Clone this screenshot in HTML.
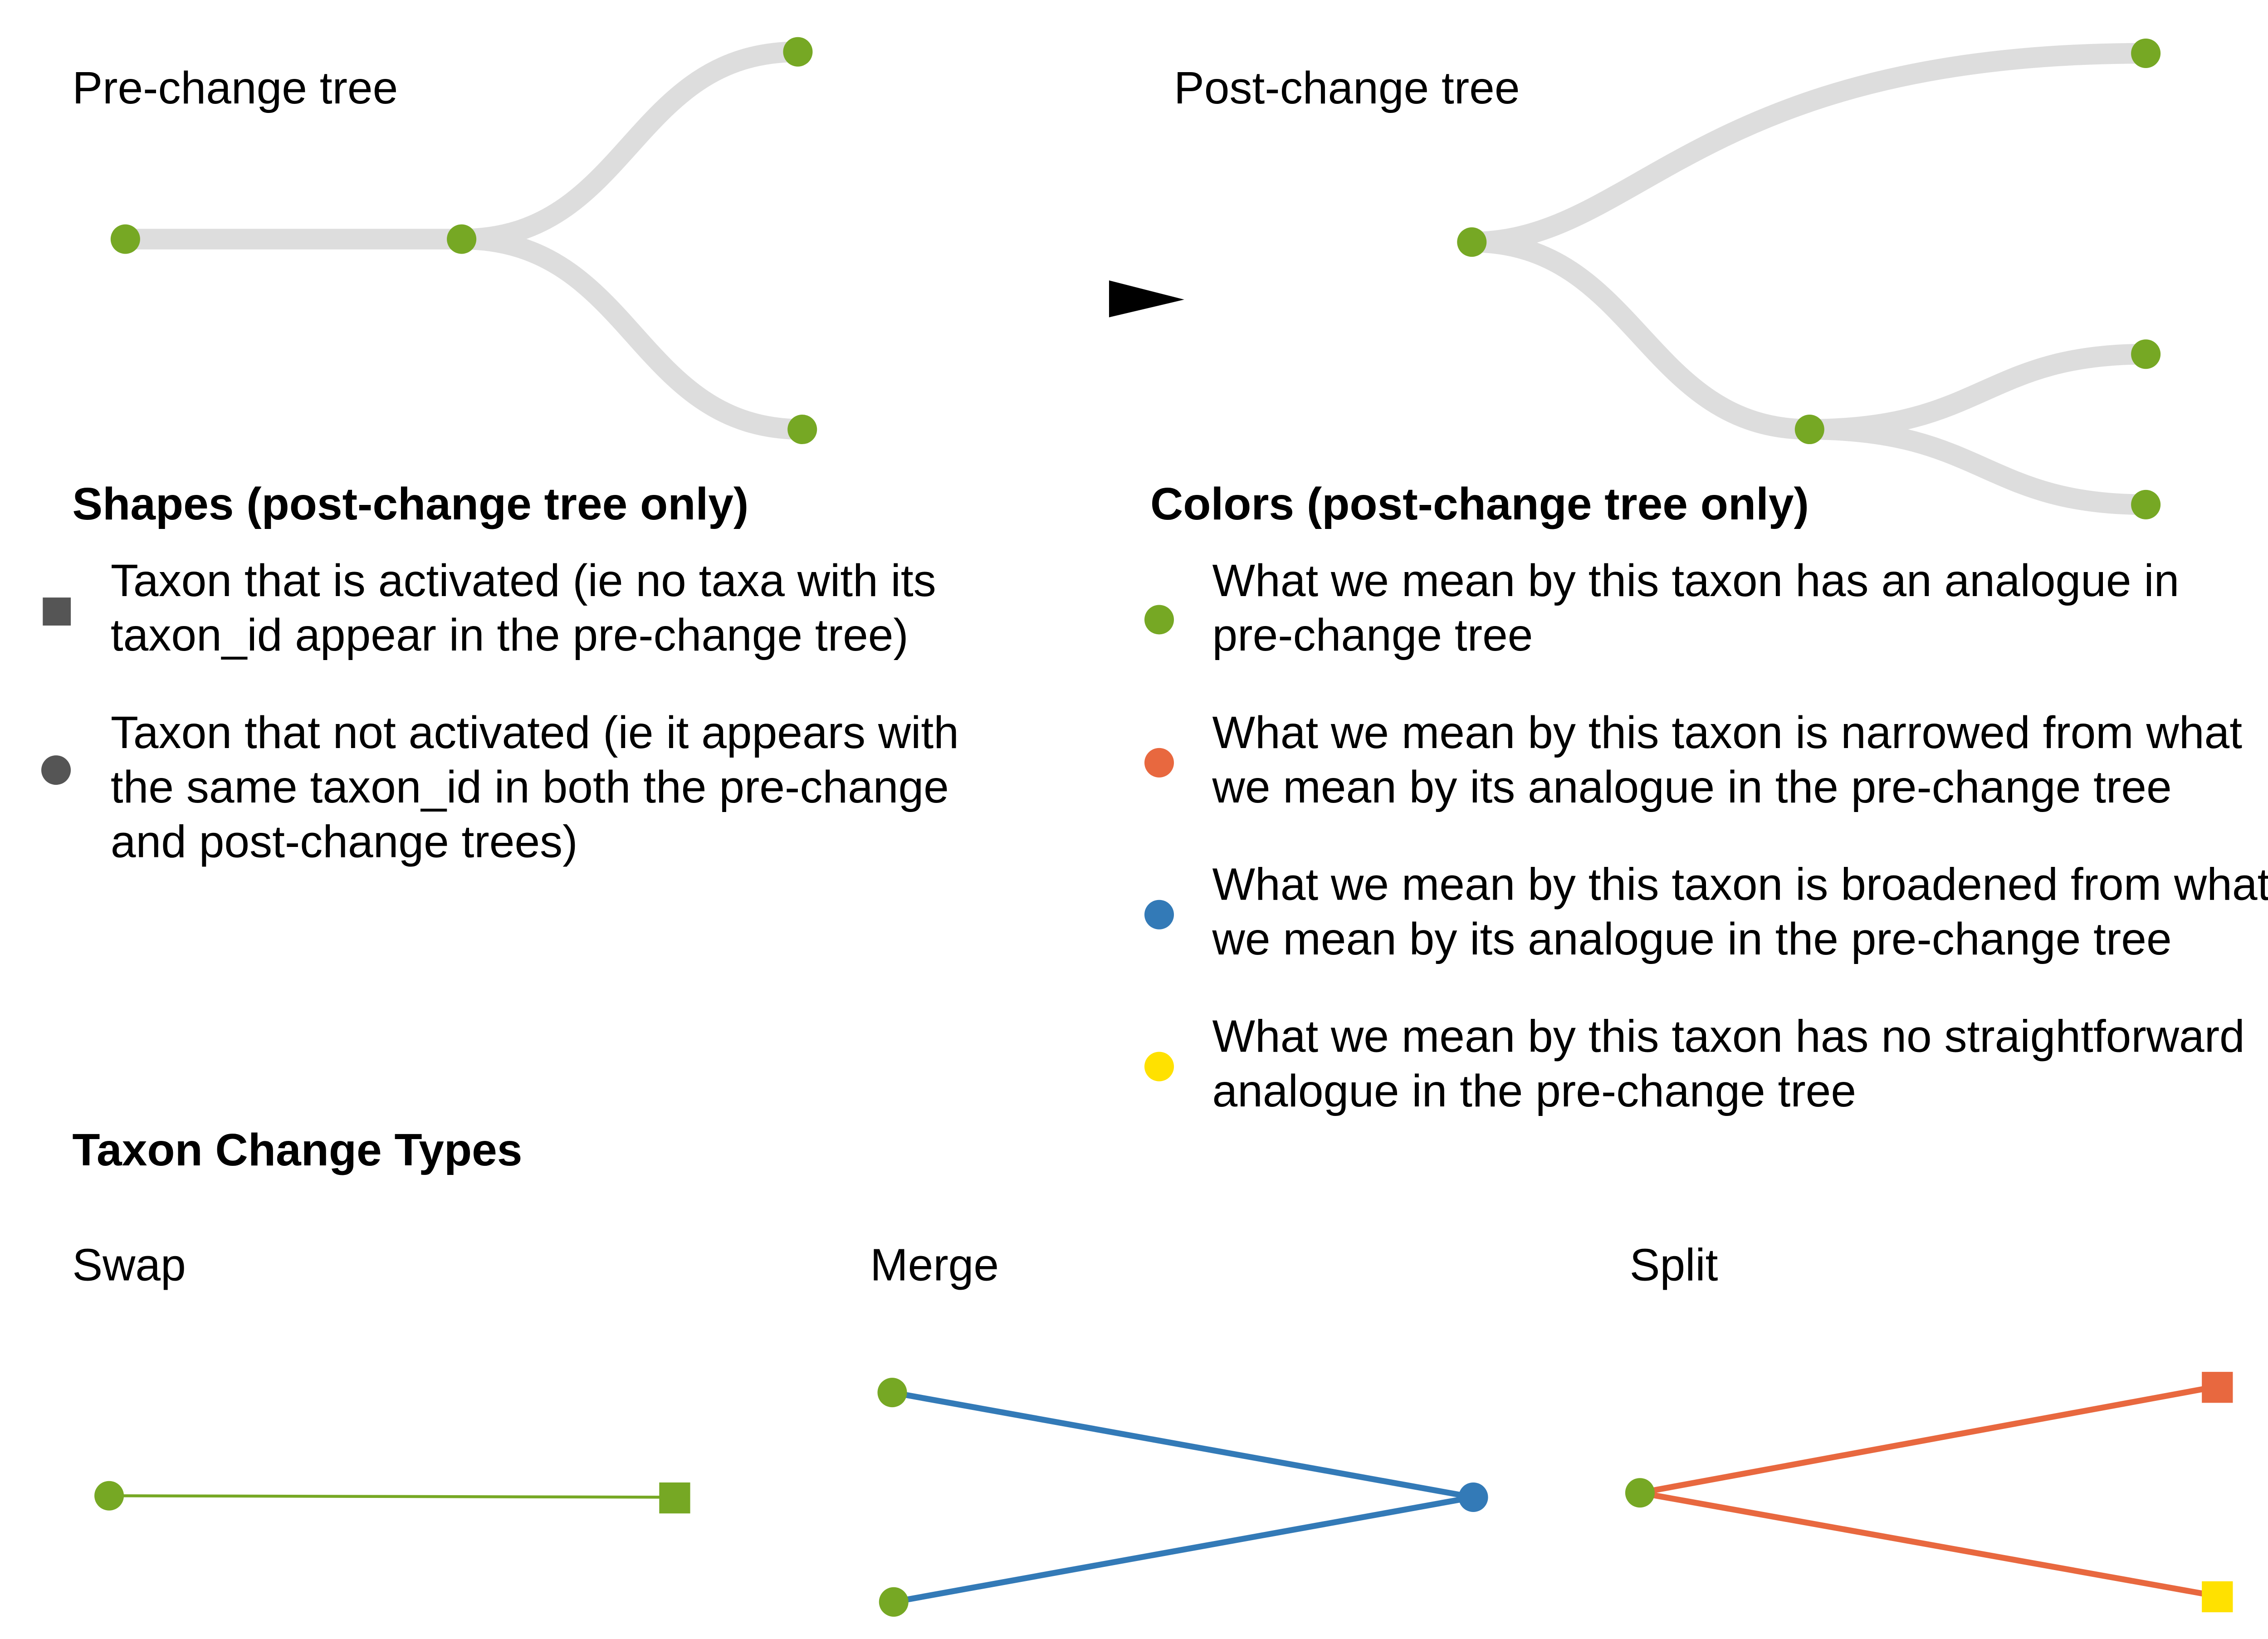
<!DOCTYPE html>
<html><head><meta charset="utf-8"><style>
html,body{margin:0;padding:0;background:#fff;}
svg{display:block;}
text{font-family:"Liberation Sans",Arial,sans-serif;font-size:30.8px;fill:#000;}
.b{font-weight:bold;}
</style></head><body>
<svg width="5072" height="3613" viewBox="0 0 1560 1111" xmlns="http://www.w3.org/2000/svg">
<rect width="1560" height="1111" fill="#fff"/>
<g fill="none" stroke="#dddddd" stroke-width="14">
<path d="M85 162 L313 162"/>
<path d="M313 162 C427 162 427 35 541 35"/>
<path d="M313 162 C430 162 430 291 544 291"/>
<path d="M998 164 C1110 164 1150 36 1455 36"/>
<path d="M998 164 C1110 164 1115 291 1227 291"/>
<path d="M1227 291 C1345 291 1345 240 1455 240"/>
<path d="M1227 291 C1345 291 1345 342 1455 342"/>
</g>
<g fill="#76a824">
<circle cx="85" cy="162" r="10"/><circle cx="313" cy="162" r="10"/>
<circle cx="541" cy="35" r="10"/><circle cx="544" cy="291" r="10"/>
<circle cx="998" cy="164" r="10"/><circle cx="1455" cy="36" r="10"/>
<circle cx="1227" cy="291" r="10"/><circle cx="1455" cy="240" r="10"/>
<circle cx="1455" cy="342" r="10"/>
</g>
<polygon points="752,190 803,203 752,215" fill="#000"/>
<text x="49" y="70">Pre-change tree</text>
<text x="796" y="70">Post-change tree</text>
<text x="49" y="352" class="b">Shapes (post-change tree only)</text>
<rect x="29" y="405" width="19" height="19" fill="#555"/>
<text x="75" y="404">Taxon that is activated (ie no taxa with its</text>
<text x="75" y="441">taxon_id appear in the pre-change tree)</text>
<circle cx="38" cy="522" r="10" fill="#555"/>
<text x="75" y="507">Taxon that not activated (ie it appears with</text>
<text x="75" y="544">the same taxon_id in both the pre-change</text>
<text x="75" y="581">and post-change trees)</text>
<text x="780" y="352" class="b">Colors (post-change tree only)</text>
<circle cx="786" cy="420" r="10" fill="#76a824"/>
<text x="822" y="404">What we mean by this taxon has an analogue in</text>
<text x="822" y="441">pre-change tree</text>
<circle cx="786" cy="517" r="10" fill="#e8683f"/>
<text x="822" y="507">What we mean by this taxon is narrowed from what</text>
<text x="822" y="544">we mean by its analogue in the pre-change tree</text>
<circle cx="786" cy="620" r="10" fill="#337ab7"/>
<text x="822" y="610">What we mean by this taxon is broadened from what</text>
<text x="822" y="647">we mean by its analogue in the pre-change tree</text>
<circle cx="786" cy="723" r="10" fill="#ffe100"/>
<text x="822" y="713">What we mean by this taxon has no straightforward</text>
<text x="822" y="750">analogue in the pre-change tree</text>
<text x="49" y="790" class="b">Taxon Change Types</text>
<text x="49" y="868">Swap</text>
<text x="590" y="868">Merge</text>
<text x="1105" y="868">Split</text>
<line x1="74" y1="1014" x2="457" y2="1015" stroke="#76a824" stroke-width="2"/>
<circle cx="74" cy="1014" r="10" fill="#76a824"/>
<rect x="447" y="1005" width="21" height="21" fill="#76a824"/>
<g stroke="#337ab7" stroke-width="4">
<line x1="605" y1="944" x2="999" y2="1015"/>
<line x1="606" y1="1086" x2="999" y2="1015"/>
</g>
<circle cx="605" cy="944" r="10" fill="#76a824"/>
<circle cx="606" cy="1086" r="10" fill="#76a824"/>
<circle cx="999" cy="1015" r="10" fill="#337ab7"/>
<g stroke="#e8683f" stroke-width="4">
<line x1="1112" y1="1012" x2="1503" y2="940"/>
<line x1="1112" y1="1012" x2="1503" y2="1082"/>
</g>
<circle cx="1112" cy="1012" r="10" fill="#76a824"/>
<rect x="1493" y="930" width="21" height="21" fill="#e8683f"/>
<rect x="1493" y="1072" width="21" height="21" fill="#ffe100"/>
</svg>
</body></html>
